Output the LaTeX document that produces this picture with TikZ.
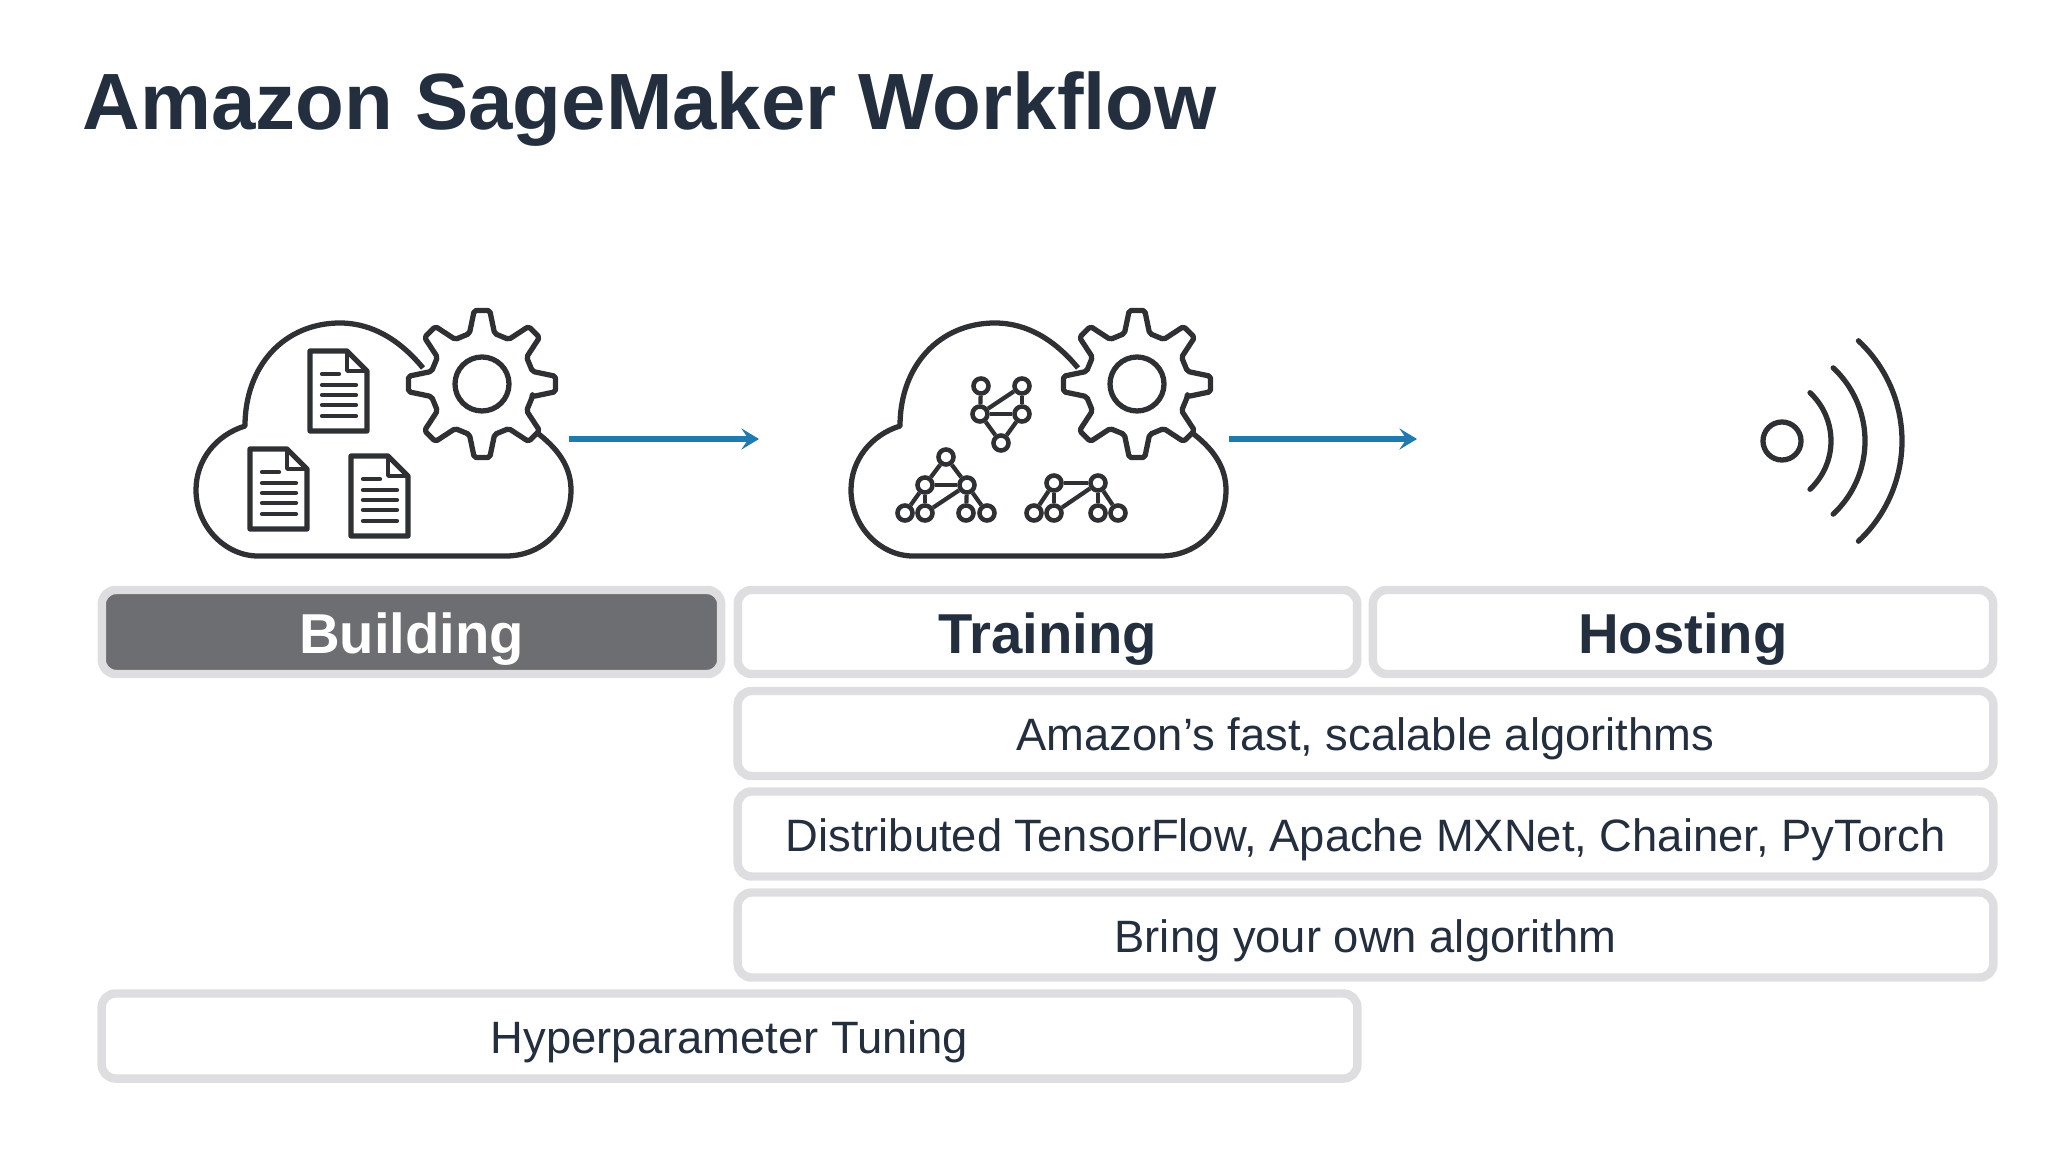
\documentclass[tikz,border=0pt]{standalone}
\usepackage{fontspec}
\setmainfont{Liberation Sans}
\usetikzlibrary{arrows.meta}
\definecolor{inkblue}{HTML}{232F3E}
\definecolor{iconink}{HTML}{2E3033}
\definecolor{boxgray}{HTML}{DEDDE0}
\definecolor{activegray}{HTML}{6D6E71}
\definecolor{arrowblue}{HTML}{1F7AB0}
\tikzset{
	iconline/.style={draw=iconink, line width=1.5pt, line join=round},
	docline/.style={draw=iconink, line width=1.2pt, line cap=round},
	netnode/.style={circle, draw=iconink, line width=1.3pt, fill=white, inner sep=0pt, minimum size=0.15cm},
	netedge/.style={draw=iconink, line width=1.2pt},
	flowarrow/.style={draw=arrowblue, line width=1.7pt, -{Stealth[length=5pt,width=6pt,inset=2pt]}},
	stagebox/.style={draw=boxgray, line width=2.4pt, rounded corners=0.14cm, fill=white, inner sep=0pt},
	headtext/.style={font=\fontsize{16pt}{20pt}\selectfont\bfseries, text=inkblue, text height=0.42cm, text depth=0cm},
	rowtext/.style={font=\fontsize{12.9pt}{16pt}\selectfont, text=inkblue, text height=0.34cm, text depth=0cm}
}
% cloud with gear, x offset as argument
\newcommand{\cloudgear}[1]{
	\begin{scope}[xshift=#1*0.01cm]
		\draw [iconline] (423,-368) .. controls (400,-340) and (372,-323) .. (340,-323)
			.. controls (285,-323) and (245,-365) .. (245,-426)
			.. controls (216,-435) and (196,-460) .. (196,-490)
			.. controls (196,-526) and (225,-556) .. (258,-556) -- (506,-556)
			.. controls (544,-556) and (571,-526) .. (571,-490)
			.. controls (571,-465) and (556,-447) .. (536,-432);
		\begin{scope}[shift={(482,-384)}]
			\draw [iconline, rounded corners=0.02cm] (-14:52)
				\foreach \ang in {0,45,...,315} { -- (\ang-14:52) -- (\ang-6:74) -- (\ang+6:74) -- (\ang+14:52) } -- cycle;
			\draw [iconline] (0,0) circle (27);
		\end{scope}
	\end{scope}
}
% page with folded corner, top left given
\newcommand{\docicon}[2]{
	\begin{scope}[shift={(#1,#2)}]
		\draw [iconline] (0,0) -- (37,0) -- (57,-20) -- (57,-80) -- (0,-80) -- cycle;
		\draw [iconline, line width=1pt] (37,0) -- (37,-20) -- (57,-20);
		\draw [docline] (12,-23) -- (29,-23);
		\foreach \yy in {-34,-44,-54,-65}
			\draw [docline] (12,\yy) -- (46,\yy);
	\end{scope}
}
\begin{document}
\begin{tikzpicture}[x=0.01cm, y=0.01cm]
	\useasboundingbox (0,0) rectangle (2048,-1152);
	\node (title) [anchor=base west, inner sep=0pt, text=inkblue, font=\fontsize{22.7pt}{28pt}\selectfont\bfseries] at (82,-129.5) {Amazon SageMaker Workflow};

	\cloudgear{0}
	\cloudgear{655}
	\docicon{310}{-351}
	\docicon{250}{-449}
	\docicon{351}{-456}

	% small networks in second cloud
	\node (a1) [netnode] at (981,-386) {};
	\node (a2) [netnode] at (1022,-386) {};
	\node (a3) [netnode] at (980,-414) {};
	\node (a4) [netnode] at (1022,-414) {};
	\node (a5) [netnode] at (1001,-443) {};
	\node (b1) [netnode] at (946,-457) {};
	\node (b2) [netnode] at (925,-485) {};
	\node (b3) [netnode] at (967,-485) {};
	\node (b4) [netnode] at (905,-513) {};
	\node (b5) [netnode] at (925,-513) {};
	\node (b6) [netnode] at (966,-513) {};
	\node (b7) [netnode] at (987,-513) {};
	\node (c2) [netnode] at (1054,-483) {};
	\node (c3) [netnode] at (1098,-483) {};
	\node (c4) [netnode] at (1034,-513) {};
	\node (c5) [netnode] at (1054,-513) {};
	\node (c6) [netnode] at (1098,-513) {};
	\node (c7) [netnode] at (1118,-513) {};
	\foreach \from/\to in {a1/a3,a2/a4,a2/a3,a3/a4,a3/a5,a4/a5,b1/b2,b1/b3,b2/b3,b2/b4,b2/b5,b3/b5,b3/b6,b3/b7,c2/c3,c2/c4,c2/c5,c3/c5,c3/c6,c3/c7}
		\draw [netedge] (\from) -- (\to);

	% signal icon
	\node (signal) [circle, draw=iconink, line width=1.5pt, inner sep=0pt, minimum size=0.38cm] at (1782,-441) {};
	\foreach \rad in {66,100,137}
		\draw [iconline, line cap=round] (1765,-441) ++(-47:\rad) arc (-47:47:\rad);

	% arrows between the stages
	\coordinate (buildout) at (569,-439);
	\coordinate (buildin) at (759,-439);
	\coordinate (trainout) at (1229,-439);
	\coordinate (trainin) at (1417,-439);
	\draw [flowarrow] (buildout) -- (buildin);
	\draw [flowarrow] (trainout) -- (trainin);

	% stage headers and rows
	\node (building) [stagebox, fill=activegray, minimum width=6.19cm, minimum height=0.84cm, headtext, text=white] at (411.5,-632) {Building};
	\node (training) [stagebox, minimum width=6.19cm, minimum height=0.84cm, headtext] at (1047.5,-632) {Training};
	\node (hosting) [stagebox, minimum width=6.2cm, minimum height=0.84cm, headtext] at (1683,-632) {Hosting};
	\node (algos) [stagebox, minimum width=12.55cm, minimum height=0.85cm, rowtext] at (1365.5,-733.5) {Amazon’s fast, scalable algorithms};
	\node (frameworks) [stagebox, minimum width=12.55cm, minimum height=0.85cm, rowtext] at (1365.5,-834) {Distributed TensorFlow, Apache MXNet, Chainer, PyTorch};
	\node (ownalgo) [stagebox, minimum width=12.55cm, minimum height=0.85cm, rowtext] at (1365.5,-935) {Bring your own algorithm};
	\node (tuning) [stagebox, minimum width=12.55cm, minimum height=0.85cm, rowtext] at (729.5,-1036) {Hyperparameter Tuning};
\end{tikzpicture}
\end{document}
